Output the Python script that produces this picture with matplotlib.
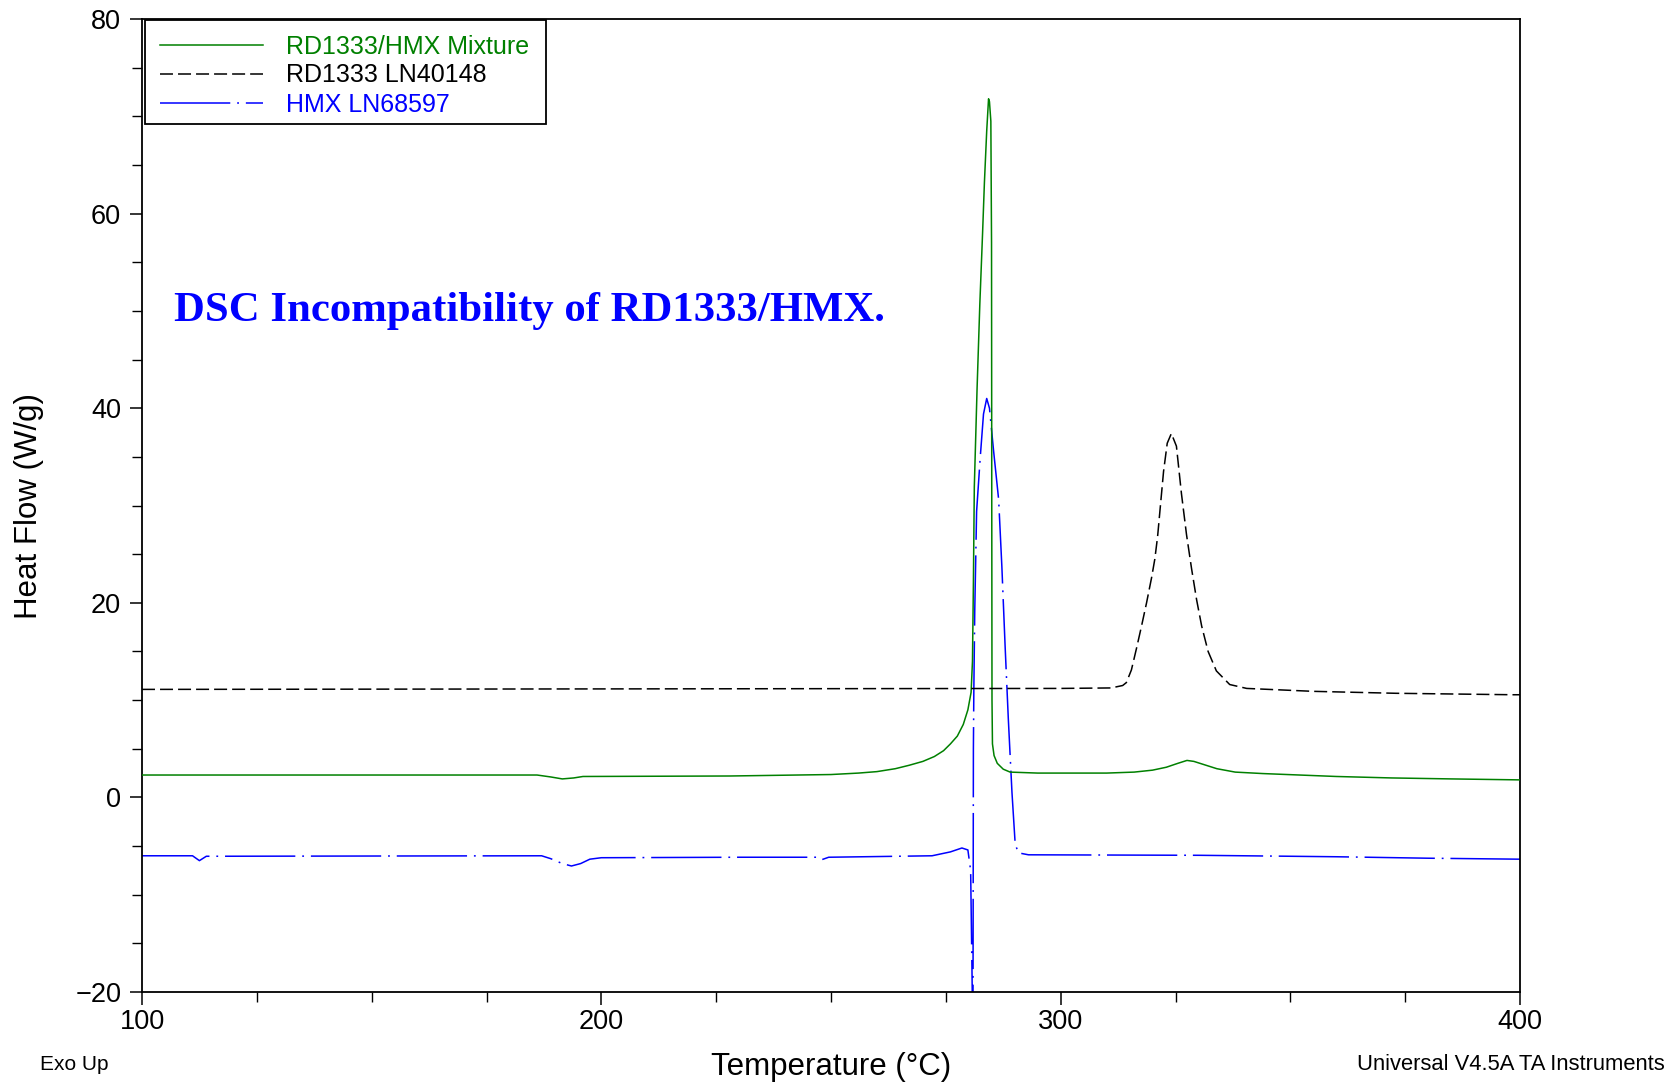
import matplotlib
matplotlib.use("Agg")
import matplotlib.pyplot as plt
from matplotlib.patches import Rectangle
from matplotlib.ticker import MultipleLocator

# ---- DSC traces: temperature (°C) / heat flow (W/g) ----
mix_T = [100, 150, 186, 189, 191.5, 194, 196, 228, 250, 256, 260, 264, 267, 270,
         272.5, 274.5, 276, 277.5, 278.8, 279.8, 280.5, 280.8, 281.0, 281.2, 281.8,
         282.4, 283.0, 283.4, 283.9, 284.3, 284.5, 284.8, 284.95, 285.0, 285.05,
         285.15, 285.5, 286.2, 287.5, 289, 295, 310, 316, 320, 323, 325.5, 327.5,
         329, 331, 334, 338, 344, 352, 360, 372, 385, 400]
mix_HF = [2.3, 2.3, 2.3, 2.1, 1.9, 2.0, 2.15, 2.2, 2.35, 2.5, 2.65, 2.95, 3.3, 3.7,
          4.2, 4.8, 5.5, 6.3, 7.5, 9.0, 10.8, 14, 22, 31.9, 42,
          50.7, 58, 63.2, 68.5, 71.8, 71.5, 69.5, 57, 30, 10,
          5.5, 4.3, 3.5, 2.9, 2.6, 2.5, 2.5, 2.6, 2.8, 3.1, 3.5, 3.8,
          3.7, 3.4, 2.95, 2.6, 2.45, 2.3, 2.15, 2.0, 1.9, 1.8]

rd_T = [100, 200, 300, 311, 313.5, 314.3, 315.4, 316.5, 317.6, 318.7, 319.8, 320.5,
        321.1, 321.7, 322.4, 323.2, 324.1, 325.2, 326.3, 327.4, 328.5, 329.6, 330.7,
        332.1, 333.9, 336.8, 340.5, 355, 373, 398.5, 400]
rd_HF = [11.1, 11.15, 11.2, 11.25, 11.5, 11.8, 13.1, 15.3, 17.6, 20.0, 22.6, 24.5,
         26.8, 29.9, 33.5, 36.4, 37.4, 36.1, 31.2, 27.0, 23.5, 20.3, 17.6,
         15.0, 13.0, 11.6, 11.2, 10.9, 10.7, 10.55, 10.55]

hmx_T = [100, 111, 112.5, 114, 187, 189, 191.5, 193.5, 195.5, 197.5, 200, 230, 247,
         248, 249.5, 272, 276, 278.5, 279.8, 280.4, 280.7, 280.9, 281.0, 281.1,
         281.3, 281.7, 282.5, 283.2, 283.9, 284.5, 285.4, 286.5, 287.2, 287.9,
         288.6, 289.4, 290.1, 290.8, 293, 330, 360, 380, 400]
hmx_HF = [-6.0, -6.0, -6.5, -6.05, -6.0, -6.3, -6.8, -7.05, -6.8, -6.35, -6.2, -6.15, -6.15,
          -6.4, -6.15, -6.0, -5.6, -5.2, -5.4, -7.5, -18, -26, 5, 11.2,
          19.3, 29.4, 35, 39.4, 41.0, 40, 35.6, 30.6, 23.7, 15.6,
          8.1, 0.5, -4.8, -5.7, -5.9, -5.95, -6.1, -6.25, -6.35]

labels = ["RD1333/HMX Mixture", "RD1333 LN40148", "HMX LN68597"]
colors = ["#008000", "#000000", "#0000ff"]
x_ticks = [100, 200, 300, 400]
y_ticks = [-20, 0, 20, 40, 60, 80]

plt.rcParams["font.family"] = ["Liberation Sans", "DejaVu Sans"]

W, H = 1676, 1084
fig = plt.figure(figsize=(W / 100, H / 100), dpi=100)
ax = fig.add_axes([142 / W, 1 - 992 / H, (1520 - 142) / W, (992 - 19) / H])

lw = 1.1
ax.plot(mix_T, mix_HF, color=colors[0], lw=lw, label=labels[0], zorder=3)
ax.plot(rd_T, rd_HF, color=colors[1], lw=lw, dashes=(8.5, 3.3), label=labels[1], zorder=4)
ax.plot(hmx_T, hmx_HF, color=colors[2], lw=lw, dashes=(46, 4.5, 1.2, 4.5),
        label=labels[2], zorder=2)

ax.set_xlim(100, 400)
ax.set_ylim(-20, 80)
ax.set_xticks(x_ticks)
ax.set_yticks(y_ticks)
ax.xaxis.set_minor_locator(MultipleLocator(25))
ax.yaxis.set_minor_locator(MultipleLocator(5))
ax.tick_params(which="major", direction="out", length=9, width=1.1,
               labelsize=19.5, pad=6, top=False, right=False)
ax.tick_params(axis="x", which="major", pad=3.5)
ax.tick_params(which="minor", direction="out", length=7, width=1.0,
               top=False, right=False)
for s in ax.spines.values():
    s.set_linewidth(1.3)

# legend entries without frame; the box is drawn separately behind them
leg = ax.legend(loc="upper left", bbox_to_anchor=(0.002, 1.0), fontsize=18,
                frameon=False, borderaxespad=0, handlelength=4.1, handletextpad=0.92,
                borderpad=0.62, labelspacing=0.2, labelcolor="linecolor")
leg.set_zorder(7)
box_x0, box_y0, box_x1, box_y1 = 144.5, 19.5, 546, 124
ax.add_patch(Rectangle((box_x0 / W, 1 - box_y1 / H), (box_x1 - box_x0) / W,
                       (box_y1 - box_y0) / H, transform=fig.transFigure,
                       facecolor="white", edgecolor="black", lw=1.3, zorder=6,
                       clip_on=False))

fig.text(174 / W, 1 - 321 / H, "DSC Incompatibility of RD1333/HMX.",
         family="Liberation Serif", fontweight="bold", fontsize=30.8,
         color="#0000ff", ha="left", va="baseline")

fig.text(831 / W, 1 - 1067 / H, "Temperature (°C)", fontsize=22.5,
         ha="center", va="center")
fig.text(29 / W, 1 - 506 / H, "Heat Flow (W/g)", fontsize=22.5,
         rotation=90, ha="center", va="center")
fig.text(40 / W, 1 - 1064 / H, "Exo Up", fontsize=15, ha="left", va="center")
fig.text(1665 / W, 1 - 1064 / H, "Universal V4.5A TA Instruments",
         fontsize=15.8, ha="right", va="center")

fig.savefig("out.png", dpi=100, facecolor="white")
